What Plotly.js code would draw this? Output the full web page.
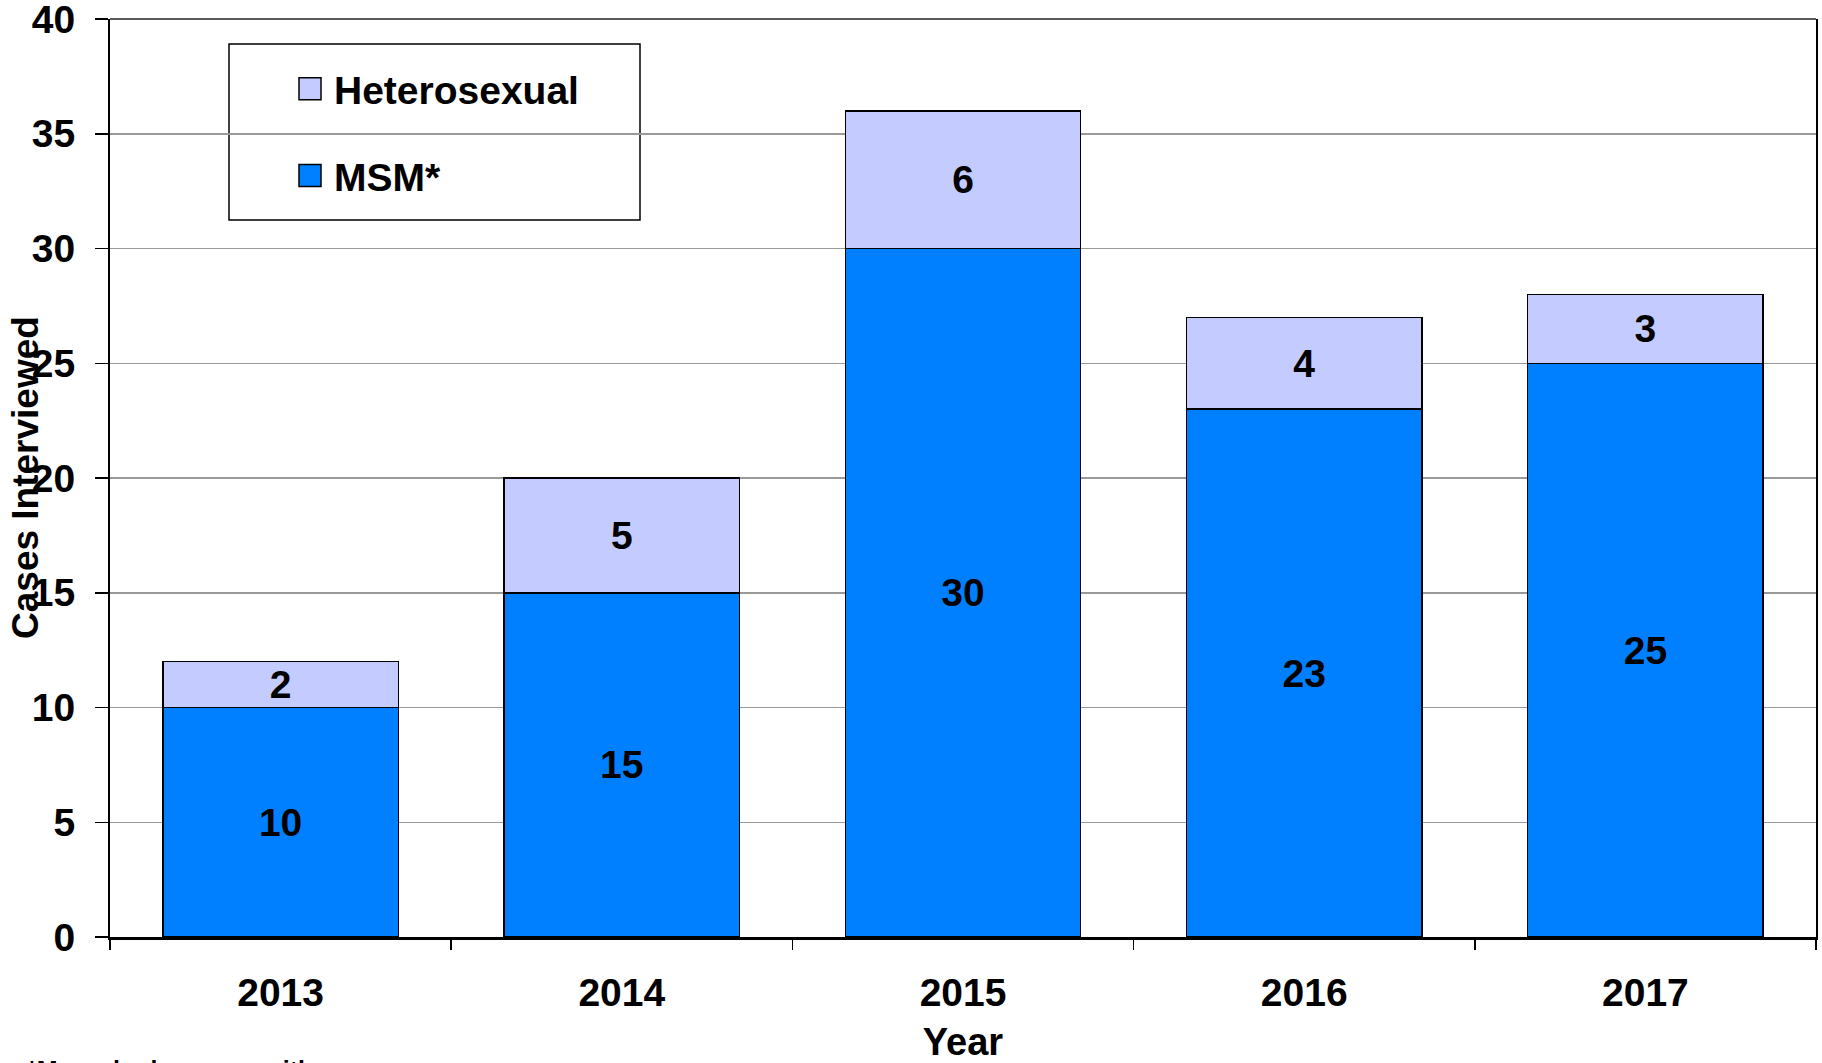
<!DOCTYPE html>
<html>
<head>
<meta charset="utf-8">
<script src="https://cdn.plot.ly/plotly-3.0.1.min.js"></script>
<style>
    html, body { margin: 0; padding: 0; background: #fff; }
    #chart { width: 1822px; height: 1063px; }
</style>
</head>
<body>
<div id="chart"></div>
<script>
// Data
const years = ['2013', '2014', '2015', '2016', '2017'];
const msmCases = [10, 15, 30, 23, 25];
const heteroCases = [2, 5, 6, 4, 3];

const FONT = 'Liberation Sans, Arial, sans-serif';

document.addEventListener('DOMContentLoaded', function() {
    const barLine = { color: '#000', width: 1.5 };
    const labelFont = { family: FONT, size: 39, color: '#000', weight: 700 };

    const traces = [
        {
            type: 'bar',
            name: 'MSM*',
            legendgroup: 'msm',
            legendrank: 2,
            x: years,
            y: msmCases,
            marker: { color: '#0080ff', line: barLine },
            texttemplate: '%{y}',
            textposition: 'inside',
            insidetextanchor: 'middle',
            textangle: 0,
            constraintext: 'none',
            textfont: labelFont,
            hoverinfo: 'skip'
        },
        {
            type: 'bar',
            name: 'Heterosexual',
            legendgroup: 'het',
            legendrank: 1,
            x: years,
            y: heteroCases,
            marker: { color: '#c4ccff', line: barLine },
            texttemplate: '%{y}',
            textposition: 'inside',
            insidetextanchor: 'middle',
            textangle: 0,
            constraintext: 'none',
            textfont: labelFont,
            hoverinfo: 'skip'
        }
    ];

    // plot area in pixels: x 110..1816, y 19..937
    const plotL = 110, plotW = 1706, plotT = 19, plotH = 918;
    const px = v => (v - plotL) / plotW;
    const py = v => (plotT + plotH - v) / plotH;

    const layout = {
        width: 1822,
        height: 1063,
        margin: { l: plotL, r: 1822 - plotL - plotW, t: plotT, b: 1063 - plotT - plotH },
        paper_bgcolor: '#fff',
        plot_bgcolor: '#fff',
        barmode: 'stack',
        bargap: 0.31,
        font: { family: FONT, size: 39, color: '#000', weight: 700 },
        showlegend: true,
        legend: {
            x: px(294),
            y: py(57),
            xanchor: 'left',
            yanchor: 'top',
            bgcolor: 'rgba(0,0,0,0)',
            borderwidth: 0,
            traceorder: 'grouped',
            tracegroupgap: 33,
            font: { family: FONT, size: 39, color: '#000', weight: 700 }
        },
        xaxis: {
            type: 'category',
            tickson: 'boundaries',
            ticks: 'outside',
            ticklen: 10,
            tickwidth: 1.5,
            tickcolor: '#000',
            ticklabelstandoff: 19,
            showline: true,
            linecolor: '#000',
            linewidth: 3,
            showgrid: false,
            zeroline: false,
            tickfont: { family: FONT, size: 39, color: '#000', weight: 700 },
            title: {
                text: 'Year',
                standoff: 23,
                font: { family: FONT, size: 38, color: '#000', weight: 700 }
            }
        },
        yaxis: {
            range: [0, 40],
            dtick: 5,
            ticks: 'outside',
            ticklen: 13,
            tickwidth: 1.5,
            tickcolor: '#000',
            ticklabelstandoff: 12,
            ticklabeloverflow: 'allow',
            showline: true,
            mirror: true,
            linecolor: '#000',
            linewidth: 2,
            showgrid: true,
            gridcolor: '#999',
            gridwidth: 1.5,
            zeroline: false,
            tickfont: { family: FONT, size: 39, color: '#000', weight: 700 }
        },
        shapes: [
            // top border of plot area
            { type: 'line', xref: 'paper', yref: 'paper', x0: 0, x1: 1, y0: 1, y1: 1,
              line: { color: '#222', width: 1.5 } },
            // legend frame
            { type: 'rect', xref: 'paper', yref: 'paper',
              x0: px(229), x1: px(640), y0: py(44), y1: py(220),
              line: { color: '#000', width: 1.5 }, fillcolor: '#fff', layer: 'below' }
        ],
        annotations: [
            {
                text: 'Cases Interviewed',
                textangle: -90,
                xref: 'paper', yref: 'paper',
                x: px(25), y: 0.5,
                xanchor: 'center', yanchor: 'middle',
                showarrow: false,
                font: { family: FONT, size: 37, color: '#000', weight: 700 }
            },
            {
                text: '*Men who have sex with men',
                xref: 'paper', yref: 'paper',
                x: px(25), y: py(1054),
                xanchor: 'left', yanchor: 'top',
                showarrow: false,
                font: { family: FONT, size: 25, color: '#000', weight: 700 }
            }
        ]
    };

    Plotly.newPlot('chart', traces, layout, { staticPlot: true }).then(function() {
        // enlarge legend swatches to match the original (keep plotly's own offset)
        document.querySelectorAll('.legendpoints path').forEach(function(p) {
            p.setAttribute('d', 'M7,11H-15V-11H7Z');
        });
    });
});
</script>
</body>
</html>
